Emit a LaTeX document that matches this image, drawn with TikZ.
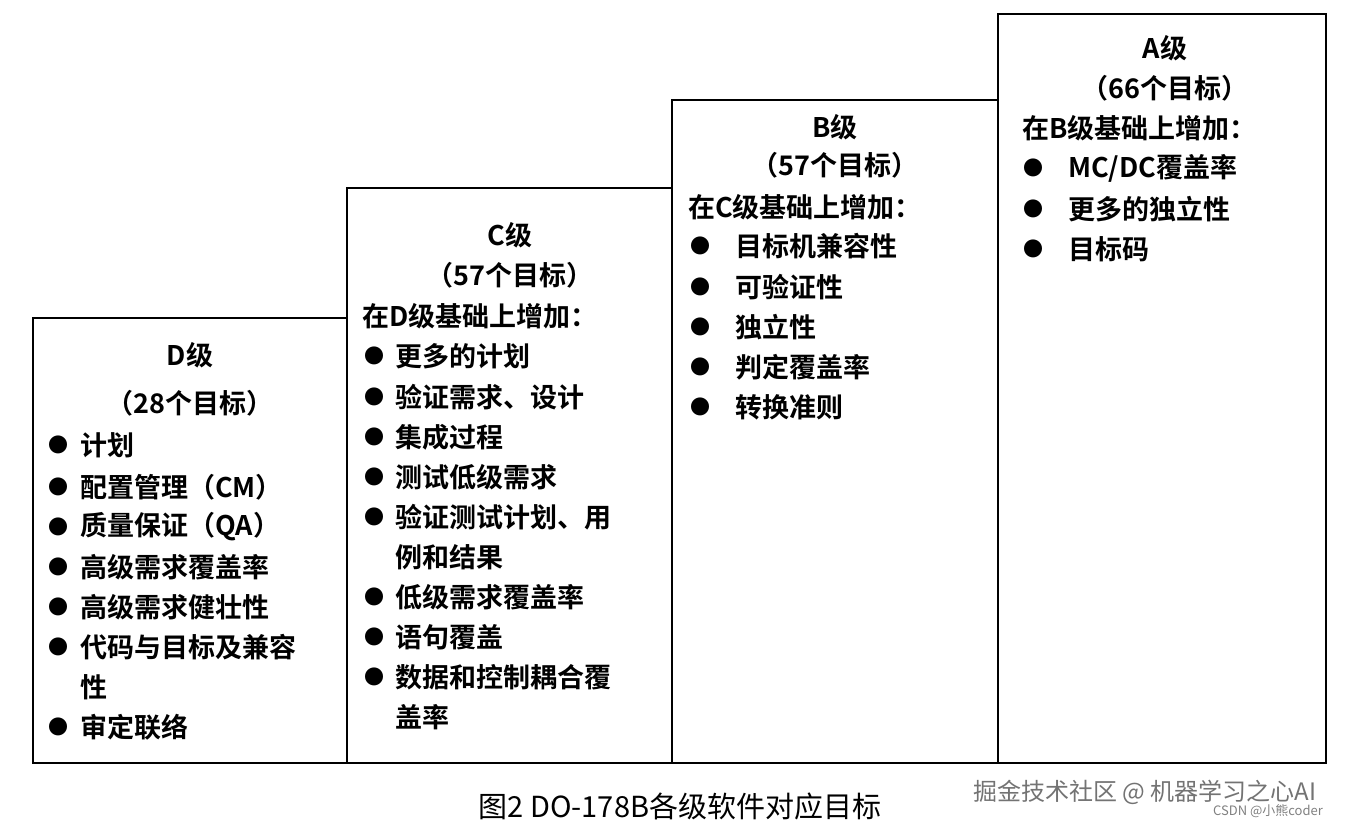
\documentclass[tikz,border=0pt]{standalone}
\usepackage{fontspec}
\setmainfont{Noto Sans CJK SC}
\newfontfamily\cjkb{Noto Sans CJK SC Bold}
\newfontfamily\cjkr{Noto Sans CJK SC}
\begin{document}
\begin{tikzpicture}[x=1pt,y=-1pt,
  box/.style={draw=black,line width=1.6pt},
  txt/.style={font=\cjkb\fontsize{27}{30}\selectfont,inner sep=0pt,anchor=west},
  ttl/.style={font=\cjkb\fontsize{27}{30}\selectfont,inner sep=0pt},
  bul/.style={font=\cjkb\fontsize{20}{24}\selectfont,inner sep=0pt}]
\useasboundingbox (0,0) rectangle (1346,829);
\draw[box] (33,318) rectangle (347,763);
\draw[box] (347,188) rectangle (672,763);
\draw[box] (672,100) rectangle (998,763);
\draw[box] (998,14) rectangle (1326,763);
% D
\node[ttl] (dt) at (190,355) {D级};
\node[ttl] (dn) at (190,403) {（28个目标）};
\foreach \t/\y/\b [count=\i] in {计划/445/1,配置管理（CM）/487/1,质量保证（QA）/527/1,高级需求覆盖率/567/1,高级需求健壮性/607/1,代码与目标及兼容/647/1,性/687/0,审定联络/727/1}{
  \node[txt] (d\i) at (80,\y) {\t};
  \ifnum\b=1 \node[bul] (db\i) at (58,\y) {●};\fi
}
% C
\node[ttl] (ct) at (510,235) {C级};
\node[ttl] (cn) at (510,275) {（57个目标）};
\node[txt] (ch) at (362,316) {在D级基础上增加：};
\foreach \t/\y/\b [count=\i] in {更多的计划/356/1,验证需求、设计/397/1,集成过程/437/1,测试低级需求/477/1,验证测试计划、用/517/1,例和结果/557/0,低级需求覆盖率/597/1,语句覆盖/637/1,数据和控制耦合覆/677/1,盖率/717/0}{
  \node[txt] (c\i) at (395,\y) {\t};
  \ifnum\b=1 \node[bul] (cb\i) at (374,\y) {●};\fi
}
% B
\node[ttl] (bt) at (835,127) {B级};
\node[ttl] (bn) at (835,165) {（57个目标）};
\node[txt] (bh) at (688,207) {在C级基础上增加：};
\foreach \t/\y [count=\i] in {目标机兼容性/246,可验证性/287,独立性/327,判定覆盖率/367,转换准则/407}{
  \node[txt] (b\i) at (735,\y) {\t};
  \node[bul] (bb\i) at (700,\y) {●};
}
% A
\node[ttl] (at) at (1165,48) {A级};
\node[ttl] (an) at (1165,88) {（66个目标）};
\node[txt] (ah) at (1022,128) {在B级基础上增加：};
\foreach \t/\y [count=\i] in {{MC/DC覆盖率}/168,更多的独立性/209,目标码/249}{
  \node[txt] (a\i) at (1068,\y) {\t};
  \node[bul] (ab\i) at (1033,\y) {●};
}
\node[font=\cjkr\fontsize{29}{32}\selectfont,inner sep=0pt] (cap) at (680,806) {图2 DO-178B各级软件对应目标};
\node[font=\cjkr\fontsize{24}{26}\selectfont,text=black!55,inner sep=0pt] (wm) at (1145,792) {掘金技术社区 @ 机器学习之心AI};
\node[font=\cjkr\fontsize{13}{15}\selectfont,text=black!50,inner sep=0pt] (wm2) at (1268,811) {CSDN @小熊coder};
\end{tikzpicture}
\end{document}
